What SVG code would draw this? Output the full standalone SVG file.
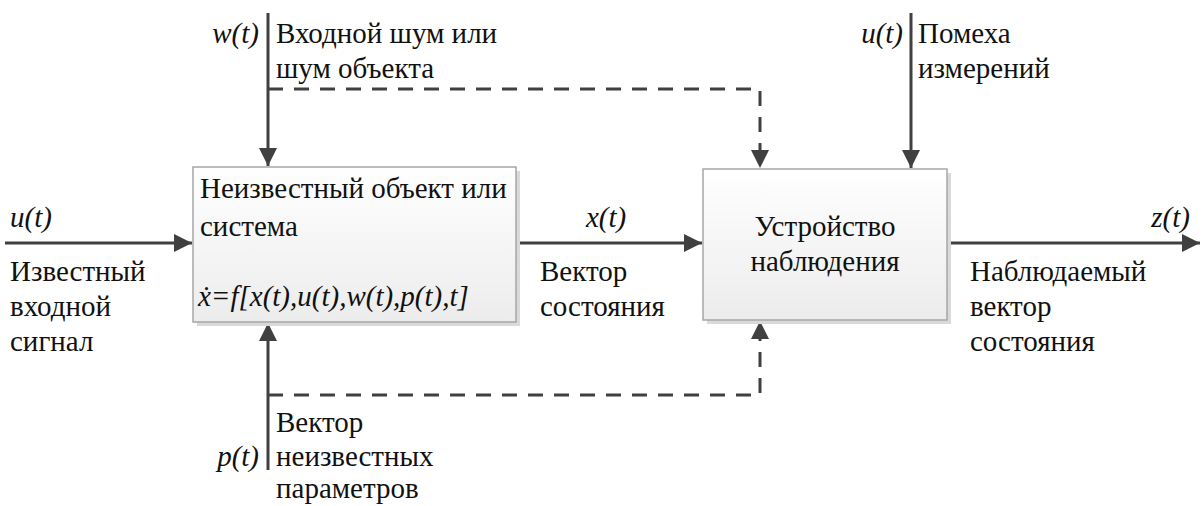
<svg xmlns="http://www.w3.org/2000/svg" width="1204" height="506" viewBox="0 0 1204 506">
<style>
text{font-family:'Liberation Serif','Times New Roman',serif;font-size:29px;fill:#111}
.it{font-style:italic}
.ln{stroke:#404040;stroke-width:3;fill:none}
.dash{stroke:#404040;stroke-width:3;fill:none;stroke-dasharray:15,11}
.box{fill:url(#g);stroke:#a6a6a6;stroke-width:1.5}
.sh{fill:#d9d9d9}
</style>
<defs>
<linearGradient id="g" x1="0" y1="0" x2="0" y2="1"><stop offset="0" stop-color="#ffffff"/><stop offset="1" stop-color="#ececec"/></linearGradient>
<marker id="a" viewBox="0 0 10 10" refX="10" refY="5" markerWidth="6" markerHeight="6" markerUnits="strokeWidth" orient="auto"><path d="M0,0L10,5L0,10z" fill="#404040"/></marker>
</defs>
<g id="connectors">
<line class="ln" x1="268" y1="13" x2="268" y2="166" marker-end="url(#a)"/>
<line class="ln" x1="268" y1="470" x2="268" y2="323" marker-end="url(#a)"/>
<line class="ln" x1="5" y1="243" x2="192" y2="243" marker-end="url(#a)"/>
<line class="ln" x1="517" y1="243" x2="702" y2="243" marker-end="url(#a)"/>
<line class="ln" x1="948" y1="243" x2="1200" y2="243" marker-end="url(#a)"/>
<line class="ln" x1="911" y1="13" x2="911" y2="168" marker-end="url(#a)"/>
<path class="dash" d="M268,89H760V168" marker-end="url(#a)"/>
<path class="dash" d="M268,395H760V321" marker-end="url(#a)"/>
</g>
<g id="object">
<rect class="sh" x="197" y="171" width="323" height="155"/>
<rect class="box" x="193" y="167" width="323" height="155"/>
<text x="200" y="198">Неизвестный объект или</text>
<text x="200" y="236">система</text>
<text class="it" x="198" y="306">ẋ=f[x(t),u(t),w(t),p(t),t]</text>
</g>
<g id="observer">
<rect class="sh" x="707" y="173" width="244" height="151"/>
<rect class="box" x="703" y="169" width="244" height="151"/>
<text x="825" y="236" text-anchor="middle">Устройство</text>
<text x="825" y="271" text-anchor="middle">наблюдения</text>
</g>
<g id="labels">
<text class="it" x="259" y="43" text-anchor="end">w(t)</text>
<text x="276" y="43">Входной шум или</text>
<text x="276" y="78">шум объекта</text>
<text class="it" x="903" y="43" text-anchor="end">u(t)</text>
<text x="918" y="43">Помеха</text>
<text x="918" y="78">измерений</text>
<text class="it" x="10" y="227">u(t)</text>
<text x="10" y="281">Известный</text>
<text x="10" y="316">входной</text>
<text x="10" y="351">сигнал</text>
<text class="it" x="606" y="227" text-anchor="middle">x(t)</text>
<text x="540" y="281">Вектор</text>
<text x="540" y="316">состояния</text>
<text class="it" x="1190" y="227" text-anchor="end">z(t)</text>
<text x="970" y="281">Наблюдаемый</text>
<text x="970" y="316">вектор</text>
<text x="970" y="351">состояния</text>
<text class="it" x="259" y="466" text-anchor="end">p(t)</text>
<text x="276" y="432">Вектор</text>
<text x="276" y="466">неизвестных</text>
<text x="276" y="498">параметров</text>
</g>
</svg>
